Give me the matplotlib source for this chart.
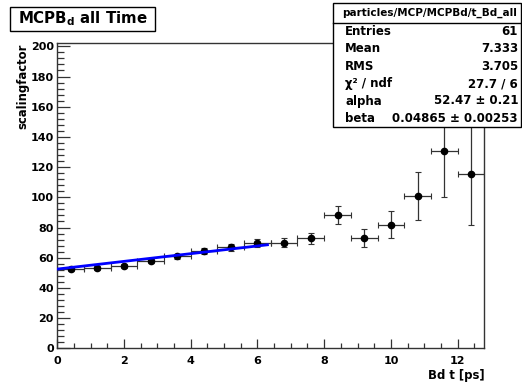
import matplotlib
matplotlib.use("Agg")
import matplotlib.pyplot as plt
from matplotlib.patches import Rectangle
import numpy as np

# data
bin_centers = [0.4, 1.2, 2.0, 2.8, 3.6, 4.4, 5.2, 6.0, 6.8, 7.6, 8.4, 9.2, 10.0, 10.8, 11.6, 12.4]
scaling = [52.7, 53.2, 54.5, 57.8, 60.9, 64.4, 66.9, 69.9, 69.9, 72.8, 88.3, 73.0, 81.9, 101.0, 130.9, 115.4]
scaling_err = [1.3, 1.4, 1.5, 1.6, 1.8, 2.0, 2.2, 2.5, 3.0, 3.4, 6.2, 6.0, 9.0, 16.0, 31.0, 34.0]
half_width = 0.4

alpha = 52.47
beta = 0.04865
fit_range = [0.0, 6.3]

stat_names = ['Entries', 'Mean', 'RMS', 'χ² / ndf', 'alpha', 'beta']
stat_values = ['61', '7.333', '3.705', '27.7 / 6', '52.47 ± 0.21', '0.04865 ± 0.00253']

plt.rcParams['font.family'] = 'DejaVu Sans'
plt.rcParams['font.weight'] = 'bold'
plt.rcParams['mathtext.fontset'] = 'custom'
plt.rcParams['mathtext.rm'] = 'DejaVu Sans:bold'
plt.rcParams['mathtext.it'] = 'DejaVu Sans:bold'
plt.rcParams['mathtext.bf'] = 'DejaVu Sans:bold'

W, H = 522, 388
def fx(x):
    return x / W
def fy(y):
    return 1 - y / H

fig = plt.figure(figsize=(W / 100, H / 100), dpi=100)
ax = fig.add_axes([fx(57.3), fy(348.3), (484.3 - 57.3) / W, (348.3 - 43.3) / H])

ax.errorbar(bin_centers, scaling, yerr=scaling_err, xerr=half_width, fmt='o',
            color='black', ms=4.5, ecolor='#333333', elinewidth=0.9,
            capsize=2, capthick=0.8, zorder=3)

xf = np.linspace(fit_range[0], fit_range[1], 50)
ax.plot(xf, alpha * (1 + beta * xf), color='#0000ff', lw=2, zorder=4)

ax.set_xlim(0, 12.8)
ax.set_ylim(0, 202)
ax.set_xticks(np.arange(0, 13, 2))
ax.set_xticks(np.arange(0, 12.81, 0.5), minor=True)
ax.set_yticks(np.arange(0, 201, 20))
ax.set_yticks(np.arange(0, 201, 4), minor=True)
ax.tick_params(axis='both', which='both', direction='in', colors='#333333',
               labelcolor='black', top=False, right=False)
ax.tick_params(axis='y', which='major', length=9, width=0.9, pad=2.5, labelsize=8)
ax.tick_params(axis='y', which='minor', length=4.8, width=0.9)
ax.tick_params(axis='x', which='major', length=6.5, width=0.9, pad=5.5, labelsize=8)
ax.tick_params(axis='x', which='minor', length=3.6, width=0.9)
for sp in ax.spines.values():
    sp.set_color('#333333')
    sp.set_linewidth(1)

ax.set_ylabel('scalingfactor', loc='top', fontsize=8.4, fontweight='bold')
ax.yaxis.set_label_coords(-0.065, 1.0)
ax.set_xlabel('Bd t [ps]', loc='right', fontsize=8.4, fontweight='bold')
ax.xaxis.set_label_coords(1.0, -0.068)

# title box
fig.add_artist(Rectangle((fx(10), fy(31)), fx(155) - fx(10), fy(7) - fy(31),
                         transform=fig.transFigure, fc='white', ec='black', lw=1))
fig.text(fx(82.5), fy(19), r'MCPB$_d$ all Time', fontsize=10.8, fontweight='bold',
         ha='center', va='center')

# stats box
fig.add_artist(Rectangle((fx(333), fy(127)), fx(521) - fx(333), fy(3) - fy(127),
                         transform=fig.transFigure, fc='white', ec='black', lw=1, zorder=10))
fig.add_artist(plt.Line2D([fx(333), fx(521)], [fy(23), fy(23)],
                          transform=fig.transFigure, color='black', lw=1, zorder=11))
fig.text(fx(430), fy(13), 'particles/MCP/MCPBd/t_Bd_all', fontsize=7.5,
         ha='center', va='center', zorder=12)
row_h = (127 - 23) / len(stat_names)
for i, (name, val) in enumerate(zip(stat_names, stat_values)):
    yc = 23 + row_h * (i + 0.5)
    fig.text(fx(345), fy(yc), name, fontsize=8.5, ha='left', va='center', zorder=12)
    fig.text(fx(518), fy(yc), val, fontsize=8.5, ha='right', va='center', zorder=12)

fig.savefig('out.png', dpi=100)
